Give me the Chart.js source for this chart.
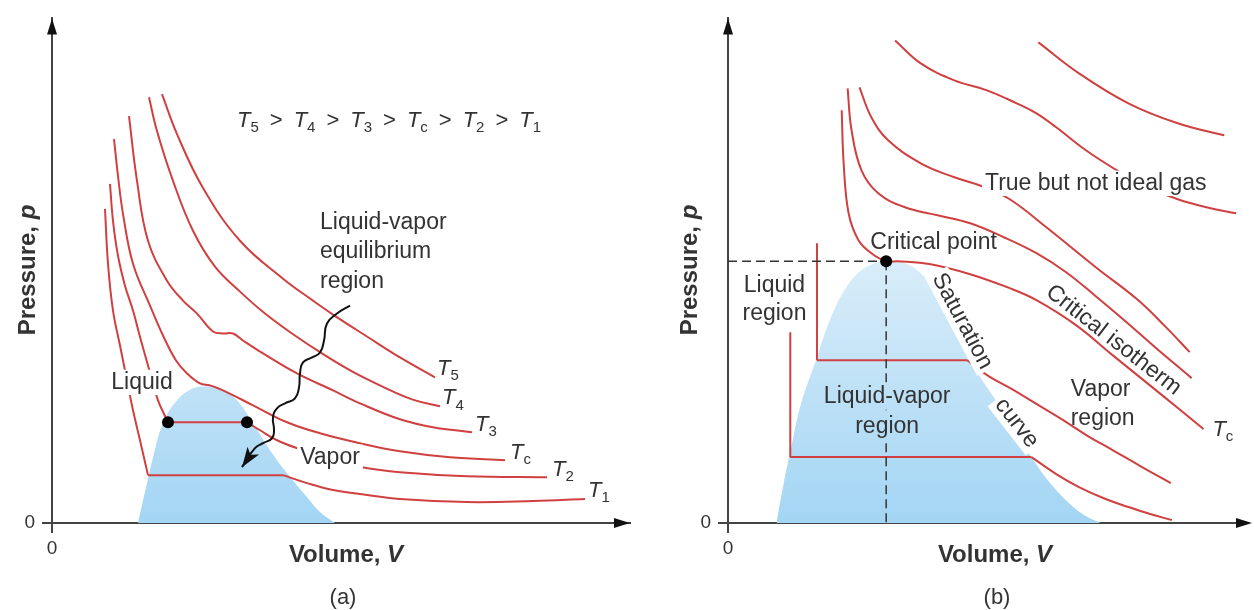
<!DOCTYPE html>
<html>
<head>
<meta charset="utf-8">
<script src="https://cdn.jsdelivr.net/npm/chart.js@4.4.1/dist/chart.umd.min.js"></script>
<style>
  html, body { margin: 0; padding: 0; background: #fff; }
  #chartA { position: absolute; left: 0; top: 0; }
  #chartB { position: absolute; left: 640px; top: 0; }
</style>
</head>
<body>
<canvas id="chartA" width="640" height="610"></canvas>
<canvas id="chartB" width="614" height="610"></canvas>
<script>
// ---- panel (a): isotherms (volume, pressure in arbitrary units)
const aT1Liquid = [[53,315],[56,260],[61,213],[68,178],[75,143],[81,113],[88,83],[96,48]];
const aT1Flat   = [[96,48],[231,48]];
const aT1Vapor  = [[231,48],[255,40],[281,33],[308,29],[348,24],[415,21],[481,22],[533,24]];
const aT2Liquid = [[58,340],[61,303],[66,268],[73,238],[81,213],[89,183],[98,151],[106,123],[116,101]];
const aT2Flat   = [[116,101],[195,101]];
const aT2Vapor  = [[195,101],[208,93],[225,83],[248,74],[278,64],[310,56],[348,51],[415,47],[495,46]];
const aTc = [[62,385],[66,348],[71,310],[81,260],[98,218],[111,188],[124,163],[135,150],[148,140],[158,138],[171,133],[201,118],[235,101],[268,90],[308,80],[348,72],[398,66],[453,63]];
const aT3 = [[77,408],[85,343],[96,283],[115,243],[131,223],[145,210],[161,192],[171,190],[181,190],[191,183],[211,170],[245,150],[281,133],[308,120],[348,104],[381,96],[420,91]];
const aT4 = [[97,427],[105,393],[121,343],[141,293],[163,257],[188,232],[213,210],[240,190],[270,170],[300,152],[330,137],[360,124],[388,117]];
const aT5 = [[110,430],[125,390],[151,336],[188,283],[231,245],[261,223],[281,209],[315,187],[348,166],[383,146]];
const aDome = [[86,0],[95,40],[101,66],[111,100],[125,123],[141,135],[153,137],[168,135],[185,123],[201,100],[218,73],[235,50],[255,26],[268,11],[283,0]];
const aEnds = [[116,101],[195,101]];
const aWave = [[298,218],[285,210],[275,200],[272,183],[268,171],[260,166],[251,161],[248,150],[247,136],[243,125],[233,120],[225,115],[221,106],[222,93],[220,85],[211,80],[203,75],[190,56]];

// ---- panel (b)
const bLowLiquid = [[63,191],[63,66]];
const bLowFlat   = [[63,66],[307,66]];
const bLowVapor  = [[307,66],[332,49],[355,36],[382,24],[405,16],[427,9],[449,3]];
const bMidLiquid = [[90,280],[90,163]];
const bMidFlat   = [[90,163],[242,163]];
const bMidVapor  = [[242,163],[262,148],[289,133],[314,118],[339,103],[364,87],[389,73],[417,57],[448,40]];
const bTc   = [[115,413],[117,360],[122,310],[132,283],[145,270],[160,262],[172,262],[205,259],[245,249],[285,235],[312,223],[352,198],[389,168],[439,128],[481,94]];
const bGas1 = [[121,435],[125,393],[135,353],[152,330],[179,316],[212,308],[245,300],[279,286],[312,270],[342,251],[372,227],[402,202],[432,176],[469,145]];
const bGas2 = [[133,436],[145,406],[162,383],[195,360],[229,346],[257,337],[285,324],[322,296],[372,256],[415,223],[442,197],[467,171]];
const bGas3 = [[169,483],[195,460],[229,443],[262,433],[292,420],[312,410],[332,396],[362,373],[395,352],[425,336],[455,324],[484,316],[514,310]];
const bGas4 = [[314,481],[355,450],[405,420],[455,400],[502,388]];
const bDome = [[49,0],[57,43],[64,76],[74,120],[89,163],[103,203],[119,235],[135,253],[152,261],[162,262],[179,260],[195,250],[212,230],[229,203],[240,173],[252,151],[272,121],[292,91],[307,66],[325,41],[347,18],[362,7],[377,0]];
const bDashH = [[0,262],[160,262]];
const bDashV = [[160,262],[160,0]];
const bCritical = [[160,262]];

const RED = '#d04040';
const INK = '#333';
const AXIS = '#444';
const FONT = '"Liberation Sans", Arial, Helvetica, sans-serif';

const pts = a => a.map(([x, y]) => ({ x, y }));
const line = (a, extra) => Object.assign({ data: pts(a), borderColor: RED, borderWidth: 2, tension: 0.4, fill: false, pointRadius: 0 }, extra);

function domeFill(chart) {
  const { ctx, chartArea, scales } = chart;
  if (!chartArea) return '#c6e4f7';
  const top = scales.y.getPixelForValue(262);
  const g = ctx.createLinearGradient(0, top, 0, chartArea.bottom);
  g.addColorStop(0, '#d9edf9');
  g.addColorStop(1, '#a3d5f4');
  return g;
}
const dome = a => ({ data: pts(a), fill: 'origin', borderWidth: 0, pointRadius: 0, tension: 0.4,
  backgroundColor: c => domeFill(c.chart), order: 10 });

// rich text: italic T with subscript etc.
const T = s => [{ t: 'T', it: true }, { t: s, sub: true }];
const txt = s => [{ t: s }];
const GT = { t: '\u2002>\u2002' };

function runFont(r, size) {
  const fs = r.sub ? Math.round(size * 0.68) : size;
  return (r.it ? 'italic ' : '') + (r.b ? 'bold ' : '') + fs + 'px ' + FONT;
}
function drawRuns(ctx, runs, x, y, size, align, bg) {
  ctx.save();
  ctx.textBaseline = 'middle';
  ctx.textAlign = 'left';
  let w = 0;
  const parts = runs.map(r => { ctx.font = runFont(r, size); const m = ctx.measureText(r.t).width; w += m; return { r, m }; });
  let cx = align === 'left' ? x : x - w / 2;
  if (bg) { ctx.fillStyle = bg; ctx.fillRect(cx - 3, y - size * 0.55, w + 6, size * 1.1); }
  ctx.fillStyle = INK;
  parts.forEach(({ r, m }) => { ctx.font = runFont(r, size); ctx.fillText(r.t, cx, y + (r.sub ? size * 0.32 : 0)); cx += m; });
  ctx.restore();
}

const notes = {
  id: 'notes',
  afterDatasetsDraw(chart, args, opts) {
    const { ctx, chartArea: ca, scales: { x, y } } = chart;
    ctx.save();
    // axis arrowheads
    ctx.fillStyle = '#111';
    ctx.beginPath();
    ctx.moveTo(ca.left, ca.top); ctx.lineTo(ca.left - 5, ca.top + 16); ctx.lineTo(ca.left + 5, ca.top + 16); ctx.closePath();
    ctx.fill();
    const xr = ca.right + (opts.arrowShift || 0);
    ctx.beginPath();
    ctx.moveTo(xr, ca.bottom); ctx.lineTo(xr - 16, ca.bottom - 5); ctx.lineTo(xr - 16, ca.bottom + 5); ctx.closePath();
    ctx.fill();
    // head of the wavy arrow
    if (opts.wave) {
      const n = opts.wave.length;
      const tx = x.getPixelForValue(opts.wave[n - 1][0]), ty = y.getPixelForValue(opts.wave[n - 1][1]);
      const sx = x.getPixelForValue(opts.wave[n - 2][0]), sy = y.getPixelForValue(opts.wave[n - 2][1]);
      const ang = Math.atan2(ty - sy, tx - sx);
      ctx.translate(tx, ty); ctx.rotate(ang);
      ctx.beginPath();
      ctx.moveTo(0, 0); ctx.lineTo(-20, -7); ctx.lineTo(-15, 0); ctx.lineTo(-20, 7); ctx.closePath();
      ctx.fill();
      ctx.setTransform(1, 0, 0, 1, 0, 0);
    }
    ctx.restore();
    (opts.labels || []).forEach(l => {
      const px = x.getPixelForValue(l.at[0]), py = y.getPixelForValue(l.at[1]);
      const bg = l.bg === 'dome' ? domeFill(chart) : l.bg;
      if (l.rot) {
        ctx.save();
        ctx.translate(px, py);
        ctx.rotate(l.rot * Math.PI / 180);
        drawRuns(ctx, l.runs, 0, 0, l.size || 23, l.align, bg);
        ctx.restore();
      } else {
        drawRuns(ctx, l.runs, px, py, l.size || 23, l.align, bg);
      }
    });
  },
  afterDraw(chart, args, opts) {
    const ctx = chart.ctx;
    const t = opts.titles;
    ctx.save();
    ctx.translate(t.p[0], t.p[1]); ctx.rotate(-Math.PI / 2);
    drawRuns(ctx, [{ t: 'Pressure, ', b: true }, { t: 'p', b: true, it: true }], 0, 0, 24, 'center');
    ctx.restore();
    drawRuns(ctx, [{ t: 'Volume, ', b: true }, { t: 'V', b: true, it: true }], t.v[0], t.v[1], 24, 'center');
    drawRuns(ctx, txt(t.cap), t.c[0], t.c[1], 22, 'center');
  }
};

function axes(xMax, yMax, yWidth) {
  const common = {
    type: 'linear', min: 0,
    grid: { drawOnChartArea: false, drawTicks: true, tickLength: 10, color: AXIS, lineWidth: 2 },
    border: { display: true, color: AXIS, width: 2 },
    afterBuildTicks: s => { s.ticks = [{ value: 0 }]; }
  };
  return {
    x: Object.assign({}, common, { max: xMax, ticks: { padding: 4, color: INK, font: { size: 19, family: FONT } },
      afterFit: s => { s.height = 87; } }),
    y: Object.assign({}, common, { max: yMax, ticks: { padding: 7, color: INK, font: { size: 19, family: FONT } },
      afterFit: s => { s.width = yWidth; } })
  };
}

const baseOpts = { responsive: false, animation: false, events: [],
  elements: { point: { radius: 0 } } };

new Chart(document.getElementById('chartA'), {
  type: 'line',
  data: { datasets: [
    { data: pts(aEnds), showLine: false, pointRadius: 6, pointBackgroundColor: '#000', pointBorderWidth: 0 },
    line(aWave, { borderColor: '#111', borderWidth: 2, tension: 0.5 }),
    line(aT1Liquid), line(aT1Flat), line(aT1Vapor),
    line(aT2Liquid), line(aT2Flat), line(aT2Vapor),
    line(aTc), line(aT3), line(aT4), line(aT5),
    dome(aDome)
  ] },
  options: Object.assign({}, baseOpts, {
    layout: { padding: { left: 0, right: 10, top: 17, bottom: 0 } },
    scales: axes(578, 506, 52),
    plugins: { legend: { display: false }, tooltip: { enabled: false },
      notes: {
        wave: aWave,
        titles: { p: [28, 270], v: [346, 555], c: [343, 598], cap: '(a)' },
        labels: [
          { at: [185, 403], align: 'left', size: 22, runs: [...T('5'), GT, ...T('4'), GT, ...T('3'), GT, ...T('c'), GT, ...T('2'), GT, ...T('1')] },
          { at: [268, 301], align: 'left', runs: txt('Liquid-vapor') },
          { at: [268, 272], align: 'left', runs: txt('equilibrium') },
          { at: [268, 242], align: 'left', runs: txt('region') },
          { at: [90, 141], runs: txt('Liquid'), bg: '#fff' },
          { at: [278, 66], runs: txt('Vapor'), bg: '#fff' },
          { at: [385, 155], align: 'left', size: 22, runs: T('5') },
          { at: [390, 125], align: 'left', size: 22, runs: T('4') },
          { at: [423, 98], align: 'left', size: 22, runs: T('3') },
          { at: [458, 70], align: 'left', size: 22, runs: T('c') },
          { at: [500, 53], align: 'left', size: 22, runs: T('2') },
          { at: [536, 32], align: 'left', size: 22, runs: T('1') }
        ]
      } }
  }),
  plugins: [notes]
});

new Chart(document.getElementById('chartB'), {
  type: 'line',
  data: { datasets: [
    { data: pts(bCritical), showLine: false, pointRadius: 6, pointBackgroundColor: '#000', pointBorderWidth: 0 },
    line(bDashH, { borderColor: INK, borderWidth: 1.5, borderDash: [9, 5], tension: 0 }),
    line(bDashV, { borderColor: INK, borderWidth: 1.5, borderDash: [9, 5], tension: 0 }),
    line(bLowLiquid), line(bLowFlat), line(bLowVapor),
    line(bMidLiquid), line(bMidFlat), line(bMidVapor),
    line(bTc), line(bGas1), line(bGas2), line(bGas3), line(bGas4),
    dome(bDome)
  ] },
  options: Object.assign({}, baseOpts, {
    layout: { padding: { left: 0, right: 0, top: 18, bottom: 0 } },
    scales: axes(526, 505, 88),
    plugins: { legend: { display: false }, tooltip: { enabled: false },
      notes: {
        arrowShift: 4,
        titles: { p: [50, 270], v: [355, 555], c: [357, 598], cap: '(b)' },
        labels: [
          { at: [208, 281], runs: txt('Critical point') },
          { at: [47, 238], runs: txt('Liquid') },
          { at: [47, 210], runs: txt('region') },
          { at: [161, 126], runs: txt('Liquid-vapor'), bg: 'dome' },
          { at: [161, 96], runs: txt('region'), bg: 'dome' },
          { at: [237, 202], rot: 62, runs: txt('Saturation'), bg: '#fff' },
          { at: [292, 100], rot: 52, runs: txt('curve'), bg: '#fff' },
          { at: [390, 183], rot: 38, runs: txt('Critical isotherm') },
          { at: [377, 133], runs: txt('Vapor') },
          { at: [379, 104], runs: txt('region') },
          { at: [372, 340], runs: txt('True but not ideal gas'), bg: '#fff' },
          { at: [490, 93], align: 'left', size: 22, runs: T('c') }
        ]
      } }
  }),
  plugins: [notes]
});
</script>
</body>
</html>
